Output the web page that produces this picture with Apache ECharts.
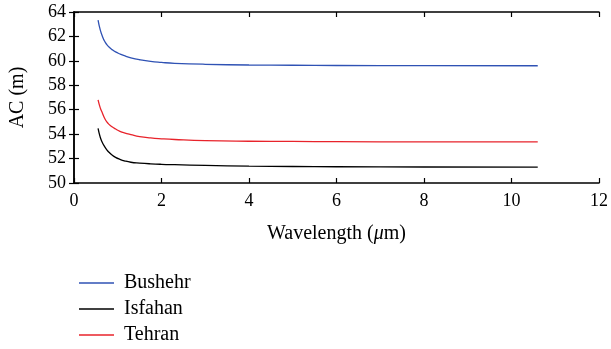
<!DOCTYPE html>
<html><head><meta charset="utf-8">
<script src="https://cdn.jsdelivr.net/npm/echarts@6/dist/echarts.min.js"></script>
<style>html,body{margin:0;padding:0;background:#fff}#c{width:611px;height:349px}</style>
</head><body><div id="c"></div>
<script>
const wavelength = [0.55,0.6,0.65,0.7,0.75,0.8,0.87,0.95,1.05,1.15,1.3,1.5,1.75,2.0,2.3,3,4,5,6,8,10.6];
const bushehr = [63.34,62.53,62.0,61.6,61.33,61.13,60.92,60.73,60.56,60.42,60.25,60.09,59.95,59.87,59.8,59.72,59.66,59.64,59.62,59.61,59.6];
const isfahan = [54.47,53.75,53.3,52.98,52.72,52.52,52.29,52.1,51.94,51.82,51.7,51.63,51.57,51.53,51.5,51.44,51.38,51.35,51.33,51.31,51.3];
const tehran = [56.8,56.15,55.72,55.3,55.0,54.8,54.6,54.42,54.23,54.1,53.96,53.8,53.69,53.62,53.56,53.47,53.42,53.4,53.38,53.37,53.36];
const seriesNames = ['Bushehr','Isfahan','Tehran'];
const colors = ['#2f52b4','#000000','#e8232b'];
const xTicks = {min:0,max:12,interval:2};
const yTicks = {min:50,max:64,interval:2};

const font = 'Liberation Serif';
const pair = arr => wavelength.map((w,i)=>[w,arr[i]]);
const axisBase = {
  axisLine:{show:true,lineStyle:{color:'#000',width:1.5}},
  axisTick:{show:true,inside:true,length:5,lineStyle:{color:'#000',width:1.2}},
  splitLine:{show:false}
};
const chart = echarts.init(document.getElementById('c'));
chart.setOption({
  animation:false,
  textStyle:{fontFamily:font},
  grid:{left:74,right:9,top:12,bottom:166},
  legend:{
    orient:'vertical',left:74,top:268,height:90,itemGap:6,itemWidth:35,itemHeight:1.3,icon:'rect',
    textStyle:{fontFamily:font,fontSize:20,color:'#000',padding:[0,0,0,5]},
    data:seriesNames
  },
  xAxis:[
    Object.assign({type:'value',position:'bottom',min:xTicks.min,max:xTicks.max,interval:xTicks.interval,
      name:'{a|Wavelength (}{i|μ}{a|m)}',nameLocation:'middle',nameGap:41,
      nameTextStyle:{rich:{a:{fontFamily:font,fontSize:20,color:'#000'},i:{fontFamily:font,fontSize:20,fontStyle:'italic',color:'#000'}}},
      axisLabel:{fontFamily:font,fontSize:18,color:'#000',margin:9}},axisBase),
    Object.assign({type:'value',position:'top',min:xTicks.min,max:xTicks.max,interval:xTicks.interval,axisLabel:{show:false}},axisBase)
  ],
  yAxis:[
    Object.assign({type:'value',position:'left',min:yTicks.min,max:yTicks.max,interval:yTicks.interval,
      name:'AC (m)',nameLocation:'middle',nameGap:46,
      nameTextStyle:{fontFamily:font,fontSize:20,color:'#000'},
      axisLabel:{fontFamily:font,fontSize:18,color:'#000',margin:8}},axisBase),
    Object.assign({type:'value',position:'right',min:yTicks.min,max:yTicks.max,interval:yTicks.interval,axisLabel:{show:false}},axisBase)
  ],
  series:[bushehr,isfahan,tehran].map((d,i)=>({
    name:seriesNames[i],type:'line',data:pair(d),smooth:0.5,symbol:'none',
    lineStyle:{color:colors[i],width:1.3},itemStyle:{color:colors[i]}
  }))
});
</script></body></html>
